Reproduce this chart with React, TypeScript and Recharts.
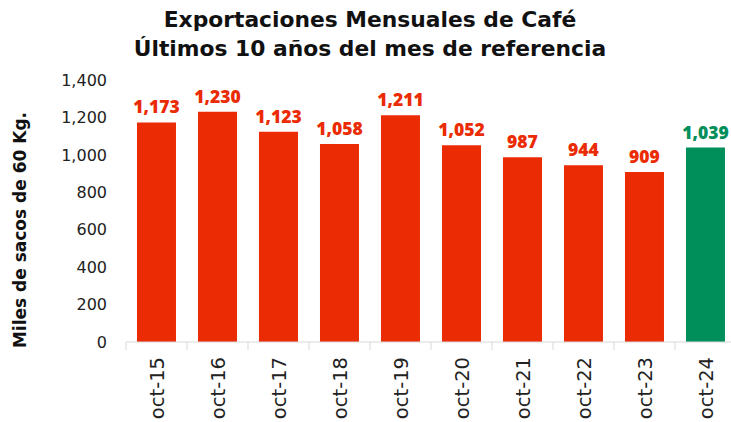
import { Bar, BarChart, Cell, LabelList, XAxis, YAxis } from 'recharts';

const months = ['oct-15', 'oct-16', 'oct-17', 'oct-18', 'oct-19', 'oct-20', 'oct-21', 'oct-22', 'oct-23', 'oct-24'];
const exports = [1173, 1230, 1123, 1058, 1211, 1052, 987, 944, 909, 1039];
const yTicks = [0, 200, 400, 600, 800, 1000, 1200, 1400];

const data = months.map((m, i) => ({ month: m, value: exports[i] }));

const RED = '#EA2B03';
const GREEN = '#008F5A';
const WIDE = "'DejaVu Sans', sans-serif";
const LABEL = "'Open Sans', sans-serif";

const colorAt = (i: number) => (i === data.length - 1 ? GREEN : RED);
const fmt = (v: number) => v.toLocaleString('en-US');

function MonthTick(props: any) {
  const { x, y, payload } = props;
  const edge = x - (payload.offset || 0);
  return (
    <g>
      <line x1={edge} x2={edge} y1={y - 8} y2={y} stroke="#D9D9D9" />
      <text
        x={x}
        y={y + 7}
        transform={`rotate(-90 ${x} ${y + 7})`}
        textAnchor="end"
        dy="0.36em"
        fontFamily={WIDE}
        fontSize={19.5}
        fill="#222"
      >
        {payload.value}
      </text>
    </g>
  );
}

function ValueLabel(props: any) {
  const { x, y, width, value, index } = props;
  return (
    <text
      x={x + width / 2}
      y={y - 9}
      textAnchor="middle"
      fontFamily={LABEL}
      fontSize={17.5}
      fontWeight={800}
      fill={colorAt(index)}
    >
      {fmt(value)}
    </text>
  );
}

export default function App() {
  return (
    <div style={{ position: 'fixed', top: 0, left: 0, width: 731, height: 422, overflow: 'hidden', background: '#fff' }}>
      <div
        style={{
          position: 'absolute',
          top: 5,
          left: 0,
          width: 740,
          textAlign: 'center',
          fontFamily: WIDE,
          fontWeight: 700,
          fontSize: 21.8,
          lineHeight: '29px',
          color: '#111',
        }}
      >
        Exportaciones Mensuales de Café
        <br />
        Últimos 10 años del mes de referencia
      </div>
      <div
        style={{
          position: 'absolute',
          left: 20,
          top: 230,
          transform: 'translate(-50%, -50%) rotate(-90deg)',
          whiteSpace: 'nowrap',
          fontFamily: WIDE,
          fontWeight: 700,
          fontSize: 17,
          color: '#111',
        }}
      >
        Miles de sacos de 60 Kg.
      </div>
      <BarChart
        width={740}
        height={422}
        data={data}
        margin={{ top: 80, right: 4, bottom: 0, left: 0 }}
        barCategoryGap="18%"
      >
        <XAxis
          dataKey="month"
          stroke="#D9D9D9"
          tickLine={false}
          tickSize={8}
          tickMargin={0}
          height={80}
          interval={0}
          tick={<MonthTick />}
        />
        <YAxis
          width={126}
          domain={[0, 1400]}
          ticks={yTicks}
          axisLine={false}
          tickLine={false}
          tickMargin={13}
          tickFormatter={fmt}
          tick={{ fontFamily: WIDE, fontSize: 16, fill: '#222' }}
        />
        <Bar dataKey="value" isAnimationActive={false}>
          {data.map((d, i) => (
            <Cell key={d.month} fill={colorAt(i)} />
          ))}
          <LabelList dataKey="value" content={<ValueLabel />} />
        </Bar>
      </BarChart>
    </div>
  );
}
